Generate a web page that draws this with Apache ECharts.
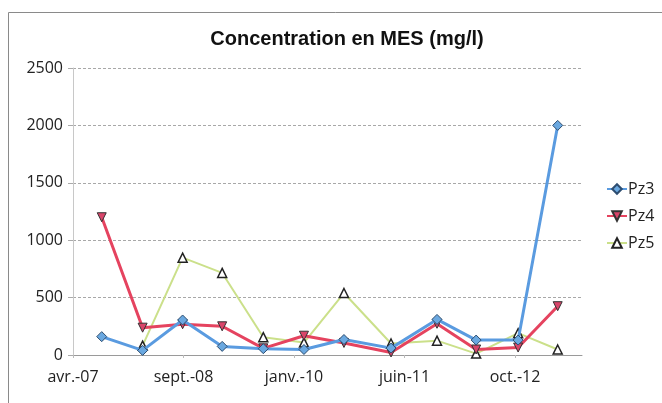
<!DOCTYPE html>
<html>
<head>
<meta charset="utf-8">
<script src="https://cdn.jsdelivr.net/npm/echarts@6/dist/echarts.min.js"></script>
<style>
  html, body { margin: 0; padding: 0; background: #fff; }
  #chart { width: 662px; height: 403px; }
</style>
</head>
<body>
<div id="chart"></div>
<script>
// sampling dates (x axis is a date axis, ticks every 500 days from axisStart)
const axisStart = '2007-04-25'
const sampleDates = ['2007-09-02', '2008-03-05', '2008-09-02', '2009-02-28', '2009-09-02', '2010-03-05',
  '2010-09-02', '2011-04-03', '2011-10-28', '2012-04-22', '2012-10-29', '2013-04-26']
const pz3 = [160, 40, 305, 75, 55, 48, 135, 60, 310, 130, 130, 2000]
const pz4 = [1200, 238, 268, 250, 58, 168, 105, 22, 272, 48, 65, 425]
const pz5 = [null, 82, 848, 715, 155, 108, 540, 100, 125, 12, 190, 48]
const yTicks = [0, 500, 1000, 1500, 2000, 2500]
const frMonths = ['janv.', 'févr.', 'mars', 'avr.', 'mai', 'juin', 'juil.', 'août', 'sept.', 'oct.', 'nov.', 'déc.']

const DAY = 86400000
const t0 = Date.parse(axisStart)
const dayOf = (d) => Math.round((Date.parse(d) - t0) / DAY)
const pairs = (vals) => sampleDates.map((d, i) => [dayOf(d), vals[i]])

const fmtDate = (v) => {
  const d = new Date(t0 + v * DAY)
  return frMonths[d.getUTCMonth()] + '-' + String(d.getUTCFullYear()).slice(2)
}

const labelFont = { fontFamily: 'Open Sans', fontSize: 16, color: '#222' }

const myChart = echarts.init(document.getElementById('chart'), null, { renderer: 'canvas' })
const option = {
  backgroundColor: '#fff',
  animation: false,
  title: {
    text: 'Concentration en MES (mg/l)',
    left: 342,
    textAlign: 'center',
    top: 24,
    textStyle: { fontFamily: 'Liberation Sans', fontWeight: 'bold', fontSize: 20, color: '#111' }
  },
  graphic: [{
    type: 'rect',
    shape: { x: 8.5, y: 12.5, width: 700, height: 500 },
    style: { fill: 'none', stroke: '#8a8a8a', lineWidth: 1 },
    silent: true
  }],
  grid: { left: 73, right: 80, top: 68, bottom: 48 },
  legend: {
    orient: 'vertical',
    left: 601,
    top: 176,
    itemWidth: 20,
    itemHeight: 12,
    itemGap: 11,
    textStyle: { fontFamily: 'Open Sans', fontSize: 16, color: '#222', padding: [0, 0, 0, -4] },
    data: ['Pz3', 'Pz4', 'Pz5']
  },
  xAxis: {
    type: 'value',
    min: 0,
    max: 2303,
    interval: 500,
    axisLine: { lineStyle: { color: '#9a9a9a' } },
    axisTick: { show: true, length: 3, lineStyle: { color: '#bbb' } },
    splitLine: { show: false },
    axisLabel: Object.assign({ margin: 14, showMaxLabel: false, formatter: fmtDate }, labelFont)
  },
  yAxis: {
    type: 'value',
    min: yTicks[0],
    max: yTicks[yTicks.length - 1],
    interval: 500,
    axisLine: { show: true, lineStyle: { color: '#c8c8c8' } },
    axisTick: { show: true, length: 5, lineStyle: { color: '#aaa' } },
    splitLine: { lineStyle: { color: '#a8a8a8', type: [3, 2], width: 1 } },
    axisLabel: Object.assign({ margin: 10, formatter: (v) => String(v) }, labelFont)
  },
  series: [
    {
      name: 'Pz5',
      type: 'line',
      z: 2,
      data: pairs(pz5),
      symbol: 'triangle',
      symbolSize: 9,
      lineStyle: { color: '#cbe08a', width: 2 },
      itemStyle: { color: '#fff', borderColor: '#222', borderWidth: 1.5 }
    },
    {
      name: 'Pz4',
      type: 'line',
      z: 3,
      data: pairs(pz4),
      symbol: 'triangle',
      symbolRotate: 180,
      symbolSize: 9,
      lineStyle: { color: '#e5435f', width: 3 },
      itemStyle: { color: '#d9456a', borderColor: '#333', borderWidth: 1 }
    },
    {
      name: 'Pz3',
      type: 'line',
      z: 4,
      data: pairs(pz3),
      symbol: 'diamond',
      symbolSize: 10,
      lineStyle: { color: '#5a9be0', width: 3 },
      itemStyle: { color: '#6aa8e0', borderColor: '#2d4d70', borderWidth: 1 }
    }
  ]
}
myChart.setOption(option)
window.addEventListener('resize', () => {
  myChart.resize()
})
</script>
</body>
</html>
